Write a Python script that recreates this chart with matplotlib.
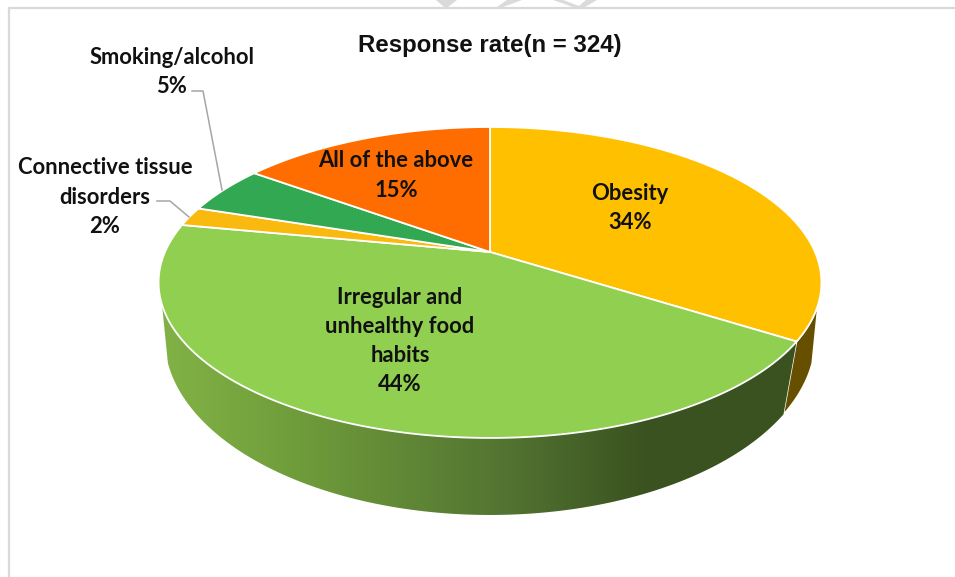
import numpy as np
import matplotlib
matplotlib.use("Agg")
import matplotlib.pyplot as plt
from matplotlib.colors import LinearSegmentedColormap
from matplotlib.patches import Polygon
from matplotlib.path import Path
from matplotlib.transforms import Transform, Affine2D

# ---- data ----
categories = ["Obesity", "Irregular and\nunhealthy food\nhabits",
              "Connective tissue\ndisorders", "Smoking/alcohol", "All of the above"]
values = [34, 44, 2, 5, 15]
colors = ["#FFC000", "#90CF50", "#F9B90F", "#33A852", "#FF6D00"]
title = "Response rate(n = 324)"

# ---- layout (pixel space of the figure) ----
W, H = 955, 577
CX, CY = 490, 252
A, B, K = 325.0, 149.5, 0.196
DEPTH_XS, DEPTH_YS, DEPTH_D = 0.982, 1.14, 51.0
SIL_L, SIL_R = 250.7, 109.3   # silhouette angles, clockwise from top
LOWER_SHIFT = 3.0             # wall seam leans a little in perspective


class Tilt(Transform):
    """Perspective view of the unit pie on a tilted plane, into pixels."""
    input_dims = output_dims = 2
    is_separable = False
    has_inverse = False

    def transform_non_affine(self, xy):
        xy = np.asarray(xy, float)
        w = 1 + K * xy[:, 1]
        return np.column_stack((CX + A * xy[:, 0] / w, CY - B * xy[:, 1] / w))

    def transform_path_non_affine(self, path):
        polys = path.transformed(Affine2D().scale(2000)).to_polygons(closed_only=False)
        v = np.vstack(polys) / 2000
        return Path(self.transform_non_affine(v))


tilt = Tilt()


def rim(t_deg, lower=False):
    t = np.radians(t_deg)
    p = tilt.transform_non_affine(np.column_stack((np.sin(t), np.cos(t))))
    if lower:
        x = CX + (p[:, 0] - CX) * DEPTH_XS
        y = CY + (p[:, 1] - CY) * DEPTH_YS + DEPTH_D
        return np.column_stack((x, y))
    return p


def wall(t0, t1, low0, low1):
    upper = rim(np.linspace(t0, t1, 120))
    lower = rim(np.linspace(low0, low1, 120), True)
    return np.vstack((upper, lower[::-1]))


fig = plt.figure(figsize=(W / 100, H / 100), dpi=100)
ax = fig.add_axes([0, 0, 1, 1])

# frame of the page
ax.plot([9, 9, W], [H, 7.5, 7.5], color="#D9D9D9", lw=1.6, zorder=1)
# watermark fragments at the top edge
for pts in ([(436, 0), (457, 0), (448, 7), (444, 7)],
            [(522, 0), (503, 7), (497, 7), (507, 0)],
            [(553, 0), (563, 0), (579, 6), (586, 0), (597, 0), (585, 7), (573, 7)]):
    ax.add_patch(Polygon(pts, closed=True, fc="#DADADA", ec="none", zorder=1))

# side walls
bounds = np.cumsum(values) / np.sum(values) * 360
b1 = bounds[0]
ax.add_patch(Polygon(wall(SIL_R, b1, SIL_R, b1 + LOWER_SHIFT), closed=True,
                     fc="#665000", ec="white", lw=1.0, zorder=2))
green_cmap = LinearSegmentedColormap.from_list(
    "wall", [(0, "#82B346"), (0.22, "#6F9C3B"), (0.55, "#527331"), (0.76, "#3B5320"), (1, "#3A5120")])
im = ax.imshow(np.linspace(0, 1, 256)[None, :], cmap=green_cmap, aspect="auto",
               extent=(158, 795, 520, 240), zorder=2)
clip = Polygon(wall(b1, SIL_L, b1 + LOWER_SHIFT, SIL_L), closed=True, transform=ax.transData)
im.set_clip_path(clip)

# top face
wedges, _ = ax.pie(values, colors=colors, startangle=90, counterclock=False,
                   radius=1, center=(0, 0),
                   wedgeprops=dict(edgecolor="white", linewidth=1.3))
for w in wedges:
    w.set_transform(tilt + ax.transData)
    w.set_zorder(3)
    w.set_clip_on(False)

ax.set_aspect("auto")
ax.set_xlim(0, W)
ax.set_ylim(H, 0)
ax.axis("off")

# leader lines
ax.plot([192, 203, 222], [91, 91, 190], color="#A6A6A6", lw=1.1, zorder=4)
ax.plot([157, 170, 189], [201, 201, 217], color="#A6A6A6", lw=1.1, zorder=4)

# labels
label_xy = [(630, 208), (400, 341), (105, 197), (172, 72), (396, 175.5)]
for cat, val, (x, y) in zip(categories, values, label_xy):
    ax.text(x, y, f"{cat}\n{val}%", ha="center", va="center", family="Lato",
            weight="bold", fontsize=15.8, color="#111111", linespacing=1.49, zorder=5)

ax.text(490, 45.5, title, ha="center", va="center", family="Liberation Sans",
        weight="bold", fontsize=17.3, color="#111111", zorder=5)

fig.savefig("out.png", dpi=100, facecolor="white")
